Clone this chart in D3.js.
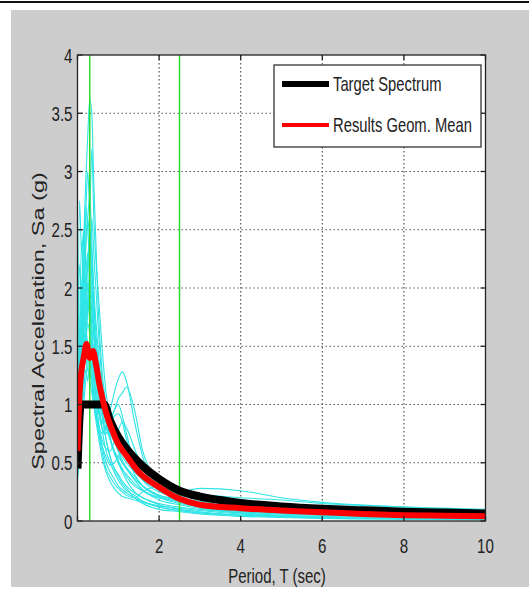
<!DOCTYPE html>
<html><head><meta charset="utf-8">
<script src="https://cdn.jsdelivr.net/npm/d3@7"></script>
<style>html,body{margin:0;padding:0;background:#fff;}svg{display:block;}</style>
</head><body>
<script>
// ---------- DATA ----------
const xTicks = [0, 2, 4, 6, 8, 10];
const xTickLabels = ["", "2", "4", "6", "8", "10"];
const yTicks = [0, 0.5, 1, 1.5, 2, 2.5, 3, 3.5, 4];
const yTickLabels = ["0", "0.5", "1", "1.5", "2", "2.5", "3", "3.5", "4"];
const greenLinesT = [0.3, 2.5];
const legendLabels = ["Target Spectrum", "Results Geom. Mean"];
const xTitle = "Period, T (sec)";
const yTitle = "Spectral Acceleration, Sa (g)";

const targetT  = [0, 0.08, 0.3, 0.5, 0.65, 0.8, 1.0, 1.2, 1.6, 2.0, 2.5, 3, 3.5, 4, 5, 6, 7, 8, 9, 10];
const targetSa = [0.45, 1.0, 1.0, 1.0, 1.0, 0.86, 0.72, 0.62, 0.47, 0.36, 0.26, 0.21, 0.18, 0.155, 0.125, 0.105, 0.092, 0.08, 0.072, 0.065];

const meanT  = [0, 0.05, 0.1, 0.15, 0.22, 0.3, 0.38, 0.45, 0.55, 0.7, 0.85, 1.0, 1.2, 1.5, 2.0, 2.5, 3, 4, 5, 6, 7, 8, 9, 10];
const meanSa = [0.6, 1.1, 1.3, 1.4, 1.52, 1.4, 1.46, 1.35, 1.15, 0.93, 0.78, 0.66, 0.56, 0.42, 0.29, 0.19, 0.14, 0.11, 0.09, 0.075, 0.06, 0.05, 0.045, 0.04];

const recordT = [0, 0.05, 0.1, 0.15, 0.2, 0.25, 0.3, 0.35, 0.4, 0.5, 0.6, 0.7, 0.8, 0.9, 1.0, 1.1, 1.2, 1.4, 1.6, 2.0, 2.5, 3, 4, 5, 6, 8, 10];
const rec01 = [0.5, 1.2, 1.9, 2.4, 2.9, 3.3, 3.62, 3.5, 2.9, 1.9, 1.3, 1.0, 0.8, 0.7, 0.6, 0.52, 0.46, 0.38, 0.3, 0.21, 0.16, 0.12, 0.08, 0.06, 0.05, 0.035, 0.025];
const rec02 = [0.6, 2.75, 2.3, 2.5, 2.2, 2.0, 1.8, 1.6, 1.4, 1.1, 0.9, 0.7, 0.55, 0.45, 0.4, 0.34, 0.3, 0.24, 0.2, 0.14, 0.1, 0.08, 0.05, 0.04, 0.03, 0.02, 0.015];
const rec03 = [0.5, 1.0, 1.6, 2.1, 2.6, 3.0, 2.7, 3.2, 2.6, 2.0, 1.5, 1.1, 0.9, 0.75, 0.6, 0.5, 0.45, 0.36, 0.3, 0.22, 0.17, 0.13, 0.09, 0.07, 0.055, 0.04, 0.03];
const rec04 = [0.4, 0.7, 0.9, 1.1, 1.3, 1.2, 1.4, 1.2, 1.0, 0.85, 0.75, 0.8, 0.95, 1.1, 1.22, 1.28, 1.2, 0.85, 0.55, 0.3, 0.22, 0.2, 0.15, 0.11, 0.09, 0.07, 0.05];
const rec05 = [0.45, 0.8, 1.0, 1.3, 1.5, 1.7, 1.6, 1.4, 1.2, 1.0, 0.8, 0.75, 0.85, 0.95, 1.05, 1.1, 1.15, 0.95, 0.6, 0.35, 0.25, 0.28, 0.26, 0.2, 0.16, 0.12, 0.09];
const rec06 = [0.5, 1.1, 1.4, 1.8, 2.1, 2.3, 2.0, 1.8, 1.6, 1.2, 0.95, 0.8, 0.7, 0.6, 0.5, 0.42, 0.35, 0.25, 0.2, 0.15, 0.12, 0.1, 0.07, 0.05, 0.04, 0.03, 0.02];
const rec07 = [0.55, 0.9, 1.3, 1.6, 1.9, 2.2, 2.5, 2.3, 1.9, 1.4, 1.1, 0.9, 0.72, 0.6, 0.52, 0.45, 0.38, 0.3, 0.26, 0.2, 0.18, 0.15, 0.12, 0.1, 0.085, 0.07, 0.06];
const rec08 = [0.45, 0.8, 1.2, 1.5, 1.7, 1.9, 1.7, 1.5, 1.2, 0.8, 0.6, 0.45, 0.38, 0.32, 0.28, 0.25, 0.22, 0.2, 0.25, 0.3, 0.2, 0.12, 0.07, 0.045, 0.03, 0.02, 0.015];
const rec09 = [0.6, 1.3, 1.7, 2.0, 2.4, 2.6, 2.8, 2.4, 2.0, 1.5, 1.1, 0.85, 0.7, 0.6, 0.55, 0.5, 0.45, 0.35, 0.27, 0.18, 0.14, 0.11, 0.08, 0.06, 0.05, 0.04, 0.03];
const rec10 = [0.5, 0.9, 1.2, 1.4, 1.6, 1.5, 1.3, 1.2, 1.1, 0.95, 0.85, 0.8, 0.85, 0.95, 1.0, 0.9, 0.75, 0.5, 0.35, 0.25, 0.2, 0.16, 0.12, 0.09, 0.07, 0.05, 0.04];
const rec11 = [0.5, 1.0, 1.5, 1.9, 2.3, 2.6, 2.4, 2.2, 1.8, 1.3, 1.0, 0.85, 0.75, 0.68, 0.6, 0.55, 0.5, 0.42, 0.35, 0.27, 0.22, 0.22, 0.2, 0.18, 0.15, 0.12, 0.1];
const rec12 = [0.45, 0.75, 1.0, 1.3, 1.6, 1.9, 2.1, 1.9, 1.6, 1.1, 0.8, 0.6, 0.5, 0.42, 0.35, 0.3, 0.26, 0.22, 0.17, 0.12, 0.09, 0.07, 0.05, 0.035, 0.025, 0.018, 0.012];
const rec13 = [0.5, 1.0, 1.3, 1.6, 1.8, 2.0, 1.9, 1.7, 1.4, 1.0, 0.8, 0.75, 0.82, 0.9, 0.92, 0.85, 0.7, 0.5, 0.4, 0.3, 0.23, 0.18, 0.13, 0.1, 0.08, 0.06, 0.045];
const rec14 = [0.55, 1.1, 1.5, 1.7, 2.0, 2.2, 2.4, 2.1, 1.7, 1.25, 0.95, 0.7, 0.55, 0.45, 0.38, 0.32, 0.28, 0.2, 0.15, 0.1, 0.08, 0.06, 0.04, 0.03, 0.022, 0.015, 0.01];
const rec15 = [0.7, 1.5, 2.0, 2.2, 2.0, 1.8, 1.9, 1.6, 1.3, 0.9, 0.65, 0.5, 0.42, 0.36, 0.3, 0.27, 0.24, 0.2, 0.17, 0.12, 0.09, 0.07, 0.05, 0.04, 0.03, 0.02, 0.015];
const rec16 = [0.4, 0.6, 0.9, 1.2, 1.5, 1.8, 2.2, 2.6, 2.3, 1.7, 1.2, 0.9, 0.7, 0.58, 0.5, 0.44, 0.4, 0.32, 0.26, 0.2, 0.15, 0.12, 0.09, 0.07, 0.06, 0.045, 0.035];
const rec17 = [0.8, 2.2, 1.8, 1.6, 1.4, 1.3, 1.2, 1.1, 1.0, 0.8, 0.65, 0.55, 0.48, 0.5, 0.55, 0.6, 0.55, 0.4, 0.3, 0.22, 0.19, 0.16, 0.11, 0.08, 0.06, 0.045, 0.035];
const rec18 = [0.5, 1.4, 1.8, 2.3, 2.7, 2.5, 2.2, 2.0, 1.7, 1.3, 1.05, 0.9, 0.78, 0.7, 0.65, 0.62, 0.58, 0.48, 0.38, 0.26, 0.2, 0.17, 0.13, 0.11, 0.09, 0.07, 0.055];
const rec19 = [0.35, 0.55, 0.8, 1.0, 1.2, 1.4, 1.5, 1.3, 1.1, 0.85, 0.7, 0.62, 0.6, 0.68, 0.78, 0.85, 0.8, 0.62, 0.45, 0.3, 0.24, 0.2, 0.14, 0.1, 0.08, 0.06, 0.045];
const rec20 = [0.6, 1.6, 2.4, 2.0, 1.7, 1.5, 1.3, 1.2, 1.0, 0.75, 0.55, 0.42, 0.34, 0.28, 0.24, 0.21, 0.2, 0.18, 0.16, 0.13, 0.11, 0.09, 0.06, 0.045, 0.035, 0.025, 0.02];
const records = [rec01, rec02, rec03, rec04, rec05, rec06, rec07, rec08, rec09, rec10,
                 rec11, rec12, rec13, rec14, rec15, rec16, rec17, rec18, rec19, rec20];

// ---------- LAYOUT ----------
const W = 529, H = 589;
const P = {left: 77.5, right: 485.5, top: 55, bottom: 521};
const FONT = "'Liberation Sans', Arial, sans-serif";
const SX = 0.72; // horizontal squeeze of the original figure

const svg = d3.select("body").append("svg").attr("width", W).attr("height", H);

svg.append("line").attr("x1", 0).attr("x2", W).attr("y1", 2).attr("y2", 2)
  .attr("stroke", "#111").attr("stroke-width", 2);
svg.append("rect").attr("x", 11).attr("y", 10).attr("width", W - 11).attr("height", 577)
  .attr("fill", "#cdcdcd");

const x = d3.scaleLinear().domain([0, 10]).range([P.left, P.right]);
const y = d3.scaleLinear().domain([0, 4]).range([P.bottom, P.top]);

svg.append("rect").attr("x", P.left).attr("y", P.top)
  .attr("width", P.right - P.left).attr("height", P.bottom - P.top).attr("fill", "#fff");

svg.append("clipPath").attr("id", "clip").append("rect")
  .attr("x", P.left).attr("y", P.top).attr("width", P.right - P.left).attr("height", P.bottom - P.top);

// grid
const grid = svg.append("g").attr("stroke", "#555").attr("stroke-width", 1.2)
  .attr("stroke-dasharray", "1.5,2.5");
grid.selectAll(".gx").data(xTicks.filter(d => d > 0 && d < 10)).join("line")
  .attr("x1", d => x(d)).attr("x2", d => x(d)).attr("y1", P.top).attr("y2", P.bottom);
grid.selectAll(".gy").data(yTicks.filter(d => d > 0 && d < 4)).join("line")
  .attr("y1", d => y(d)).attr("y2", d => y(d)).attr("x1", P.left).attr("x2", P.right);

const plot = svg.append("g").attr("clip-path", "url(#clip)");
const line = d3.line().x(d => x(d[0])).y(d => y(d[1])).curve(d3.curveMonotoneX);

records.forEach(r => {
  const pts = recordT.map((t, i) => [t, r[i]]).filter(d => d[1] != null);
  plot.append("path").attr("d", line(pts)).attr("fill", "none")
    .attr("stroke", "#2ee4e6").attr("stroke-width", 1.1);
});

greenLinesT.forEach(t => {
  plot.append("line").attr("x1", x(t)).attr("x2", x(t)).attr("y1", P.top).attr("y2", P.bottom)
    .attr("stroke", "#2ddc2d").attr("stroke-width", 1.5);
});

plot.append("path").attr("d", line(targetT.map((t, i) => [t, targetSa[i]])))
  .attr("fill", "none").attr("stroke", "#000").attr("stroke-width", 8);
plot.append("path").attr("d", line(meanT.map((t, i) => [t, meanSa[i]])))
  .attr("fill", "none").attr("stroke", "#f00").attr("stroke-width", 6);

// box + ticks (MATLAB-style, inward on all four sides)
const ax = svg.append("g").attr("stroke", "#222").attr("stroke-width", 1.3);
ax.append("rect").attr("x", P.left).attr("y", P.top)
  .attr("width", P.right - P.left).attr("height", P.bottom - P.top).attr("fill", "none");
const TL = 5;
xTicks.forEach(d => {
  ax.append("line").attr("x1", x(d)).attr("x2", x(d)).attr("y1", P.bottom).attr("y2", P.bottom - TL);
  ax.append("line").attr("x1", x(d)).attr("x2", x(d)).attr("y1", P.top).attr("y2", P.top + TL);
});
yTicks.forEach(d => {
  ax.append("line").attr("y1", y(d)).attr("y2", y(d)).attr("x1", P.left).attr("x2", P.left + TL);
  ax.append("line").attr("y1", y(d)).attr("y2", y(d)).attr("x1", P.right).attr("x2", P.right - TL);
});

// tick labels
xTicks.forEach((d, i) => {
  svg.append("text").attr("transform", `translate(${x(d)},553) scale(${SX},1)`)
    .attr("text-anchor", "middle").attr("font-family", FONT).attr("font-size", 21)
    .attr("fill", "#222").text(xTickLabels[i]);
});
yTicks.forEach((d, i) => {
  svg.append("text").attr("transform", `translate(72.5,${y(d) + 7.5}) scale(${SX},1)`)
    .attr("text-anchor", "end").attr("font-family", FONT).attr("font-size", 21)
    .attr("fill", "#222").text(yTickLabels[i]);
});

// axis titles
svg.append("text").attr("transform", `translate(277,583) scale(0.75,1)`)
  .attr("text-anchor", "middle").attr("font-family", FONT).attr("font-size", 20)
  .attr("fill", "#222").text(xTitle);
svg.append("text").attr("transform", `translate(44,321) rotate(-90) scale(1,0.74)`)
  .attr("text-anchor", "middle").attr("font-family", FONT).attr("font-size", 23.5)
  .attr("fill", "#222").text(yTitle);

// legend
const lg = svg.append("g");
lg.append("rect").attr("x", 274).attr("y", 65).attr("width", 207).attr("height", 82)
  .attr("fill", "#fff").attr("stroke", "#333").attr("stroke-width", 1.3);
const legColors = ["#000", "#f00"], legWidths = [6, 4], legY = [84, 125];
legendLabels.forEach((t, i) => {
  lg.append("line").attr("x1", 282).attr("x2", 329).attr("y1", legY[i]).attr("y2", legY[i])
    .attr("stroke", legColors[i]).attr("stroke-width", legWidths[i]);
  lg.append("text").attr("transform", `translate(333,${legY[i] + 7}) scale(0.74,1)`)
    .attr("font-family", FONT).attr("font-size", 20).attr("fill", "#222").text(t);
});
</script>
</body></html>
